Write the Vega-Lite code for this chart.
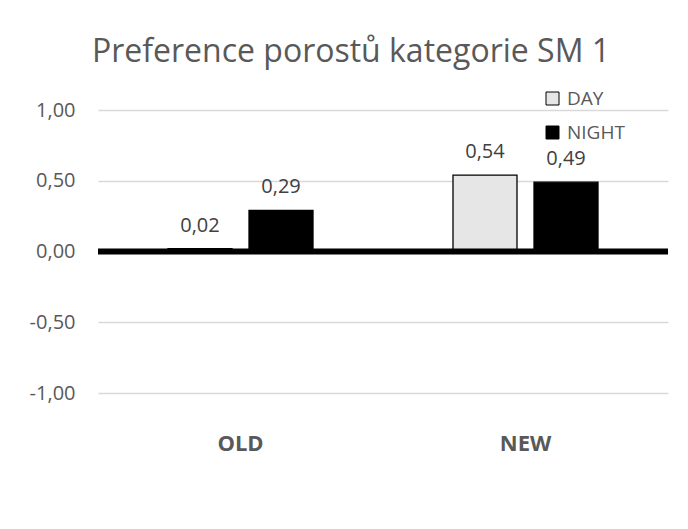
{
  "$schema": "https://vega.github.io/schema/vega-lite/v6.json",
  "autosize": {"type": "none"},
  "padding": {"left": 98, "top": 110, "right": 20, "bottom": 136},
  "width": 570,
  "height": 283,
  "background": "white",
  "config": {
    "locale": {"number": {"decimal": ",", "thousands": " ", "grouping": [3], "currency": ["", " Kč"], "minus": "-"}},
    "font": "Open Sans",
    "view": {"stroke": null}
  },
  "title": {
    "text": "Preference porostů kategorie SM 1",
    "fontSize": 32,
    "fontWeight": "normal",
    "color": "#595959",
    "font": "Open Sans",
    "anchor": "middle",
    "frame": "group",
    "dx": -32,
    "offset": 20
  },
  "data": {
    "values": [
      {"category": "OLD", "series": "DAY", "value": 0.02},
      {"category": "OLD", "series": "NIGHT", "value": 0.29},
      {"category": "NEW", "series": "DAY", "value": 0.54},
      {"category": "NEW", "series": "NIGHT", "value": 0.49}
    ]
  },
  "encoding": {
    "x": {
      "field": "category",
      "type": "nominal",
      "sort": ["OLD", "NEW"],
      "scale": {"paddingInner": 0, "paddingOuter": 0},
      "axis": {
        "title": null,
        "labelAngle": 0,
        "labelFontSize": 22,
        "labelFontWeight": "bold",
        "labelColor": "#595959",
        "labelPadding": 40,
        "ticks": false,
        "domain": false
      }
    },
    "xOffset": {
      "field": "series",
      "type": "nominal",
      "sort": ["DAY", "NIGHT"],
      "scale": {"paddingInner": 0.21, "paddingOuter": 0.864}
    },
    "y": {
      "field": "value",
      "type": "quantitative",
      "scale": {"domain": [-1, 1], "nice": false},
      "axis": {
        "title": null,
        "values": [-1, -0.5, 0, 0.5, 1],
        "format": ".2f",
        "labelFontSize": 20,
        "labelColor": "#595959",
        "labelPadding": 23,
        "ticks": false,
        "domain": false,
        "gridColor": "#d9d9d9",
        "gridWidth": 1.3
      }
    }
  },
  "layer": [
    {
      "mark": {"type": "bar", "stroke": "black", "strokeWidth": 1.3},
      "encoding": {
        "color": {
          "field": "series",
          "type": "nominal",
          "scale": {"domain": ["DAY", "NIGHT"], "range": ["#e6e6e6", "#000000"]},
          "legend": {
            "title": null,
            "orient": "none",
            "legendX": 445,
            "legendY": -21,
            "symbolType": "square",
            "symbolSize": 169,
            "symbolStrokeColor": "black",
            "symbolStrokeWidth": 1,
            "labelFontSize": 19,
            "labelColor": "#595959",
            "labelOffset": 5,
            "rowPadding": 14
          }
        }
      }
    },
    {
      "mark": {"type": "text", "baseline": "alphabetic", "dy": -17, "fontSize": 20, "color": "#404040"},
      "encoding": {
        "text": {"field": "value", "type": "quantitative", "format": ".2f"}
      }
    },
    {
      "data": {"values": [{"zero": 0}]},
      "mark": {"type": "rule", "color": "black", "strokeWidth": 6},
      "encoding": {
        "y": {"field": "zero", "type": "quantitative"},
        "x": null,
        "xOffset": null
      }
    }
  ]
}
